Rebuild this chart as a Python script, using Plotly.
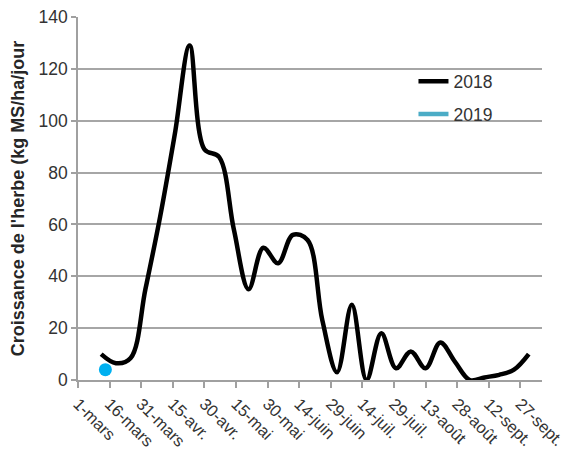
import plotly.graph_objects as go

# 2018 weekly grass growth (kg MS/ha/jour)
dates_2018 = [
    "2018-03-12", "2018-03-19", "2018-03-26", "2018-04-02", "2018-04-09",
    "2018-04-16", "2018-04-23", "2018-04-30", "2018-05-07", "2018-05-14",
    "2018-05-21", "2018-05-28", "2018-06-04", "2018-06-11", "2018-06-18",
    "2018-06-25", "2018-07-02", "2018-07-09", "2018-07-16", "2018-07-23",
    "2018-07-30", "2018-08-06", "2018-08-13", "2018-08-20", "2018-08-27",
    "2018-09-03", "2018-09-10", "2018-09-17", "2018-09-24", "2018-10-01",
]
growth_2018 = [
    10, 6.5, 8.5, 35, 63, 95, 129, 89, 86, 58,
    35, 51, 45, 56, 54, 23, 3, 29, 0, 18,
    4.5, 11, 4.5, 14.5, 7, 0, 1, 2, 4, 10,
]

# 2019 (plotted on the same seasonal day-month axis)
daymonth_2019 = ["03-14"]
growth_2019 = [4]

tick_dates = [
    "2018-03-01", "2018-03-16", "2018-03-31", "2018-04-15", "2018-04-30",
    "2018-05-15", "2018-05-30", "2018-06-14", "2018-06-29", "2018-07-14",
    "2018-07-29", "2018-08-13", "2018-08-28", "2018-09-12", "2018-09-27",
]
tick_labels = [
    "1-mars", "16-mars", "31-mars", "15-avr.", "30-avr.",
    "15-mai", "30-mai", "14-juin", "29-juin", "14-juil.",
    "29-juil.", "13-août", "28-août", "12-sept.", "27-sept.",
]
y_ticks = [0, 20, 40, 60, 80, 100, 120, 140]

FONT = "Liberation Sans, Arial, sans-serif"

fig = go.Figure()
fig.add_trace(go.Scatter(
    x=dates_2018, y=growth_2018, mode="lines", name="2018",
    line=dict(color="#000000", width=4.5, shape="spline", smoothing=1.0),
    legendgroup="a",
))
fig.add_trace(go.Scatter(
    x=["2018-" + d for d in daymonth_2019], y=growth_2019, mode="markers",
    name="2019", marker=dict(color="#00B0F0", size=13), showlegend=False,
    legendgroup="b", cliponaxis=False,
))
# legend entry for 2019 (line style as in the reference legend)
fig.add_trace(go.Scatter(
    x=[None], y=[None], mode="lines", name="2019",
    line=dict(color="#4BACC6", width=4.5), legendgroup="b",
))

fig.update_layout(
    width=561, height=444,
    margin=dict(l=70, r=27, t=9, b=72, autoexpand=False),
    paper_bgcolor="white", plot_bgcolor="white",
    font=dict(family=FONT, size=17, color="#333333"),
    showlegend=True,
    legend=dict(
        x=0.723, y=0.872, xanchor="left", yanchor="top",
        font=dict(family=FONT, size=17.5, color="#333333"),
        bgcolor="rgba(0,0,0,0)", traceorder="grouped", tracegroupgap=7,
    ),
    xaxis=dict(
        type="date", automargin=False, ticklabeloverflow="allow",
        range=["2018-03-01", "2018-10-07 07:00"],
        tickmode="array", tickvals=tick_dates, ticktext=tick_labels,
        tickangle=45, tickfont=dict(family=FONT, size=16.5, color="#333333"),
        showgrid=False, showline=True, linecolor="#A0A0A0", linewidth=1.5,
        ticks="outside", ticklen=6, tickcolor="#A0A0A0", tickwidth=1.5,
        zeroline=False,
    ),
    yaxis=dict(
        range=[0, 140], tickmode="array", tickvals=y_ticks, automargin=False,
        ticklabeloverflow="allow",
        tickfont=dict(family=FONT, size=17.5, color="#333333"),
        showgrid=True, gridcolor="#A6A6A6", gridwidth=1.5,
        showline=True, linecolor="#A0A0A0", linewidth=1.5,
        ticks="outside", ticklen=5, tickcolor="#A0A0A0", tickwidth=1.5,
        zeroline=False,
        title=dict(
            text="<b>Croissance de l'herbe (kg MS/ha/jour</b>",
            font=dict(family=FONT, size=18, color="#262626"),
        ),
    ),
)

fig.write_html("out.html")
